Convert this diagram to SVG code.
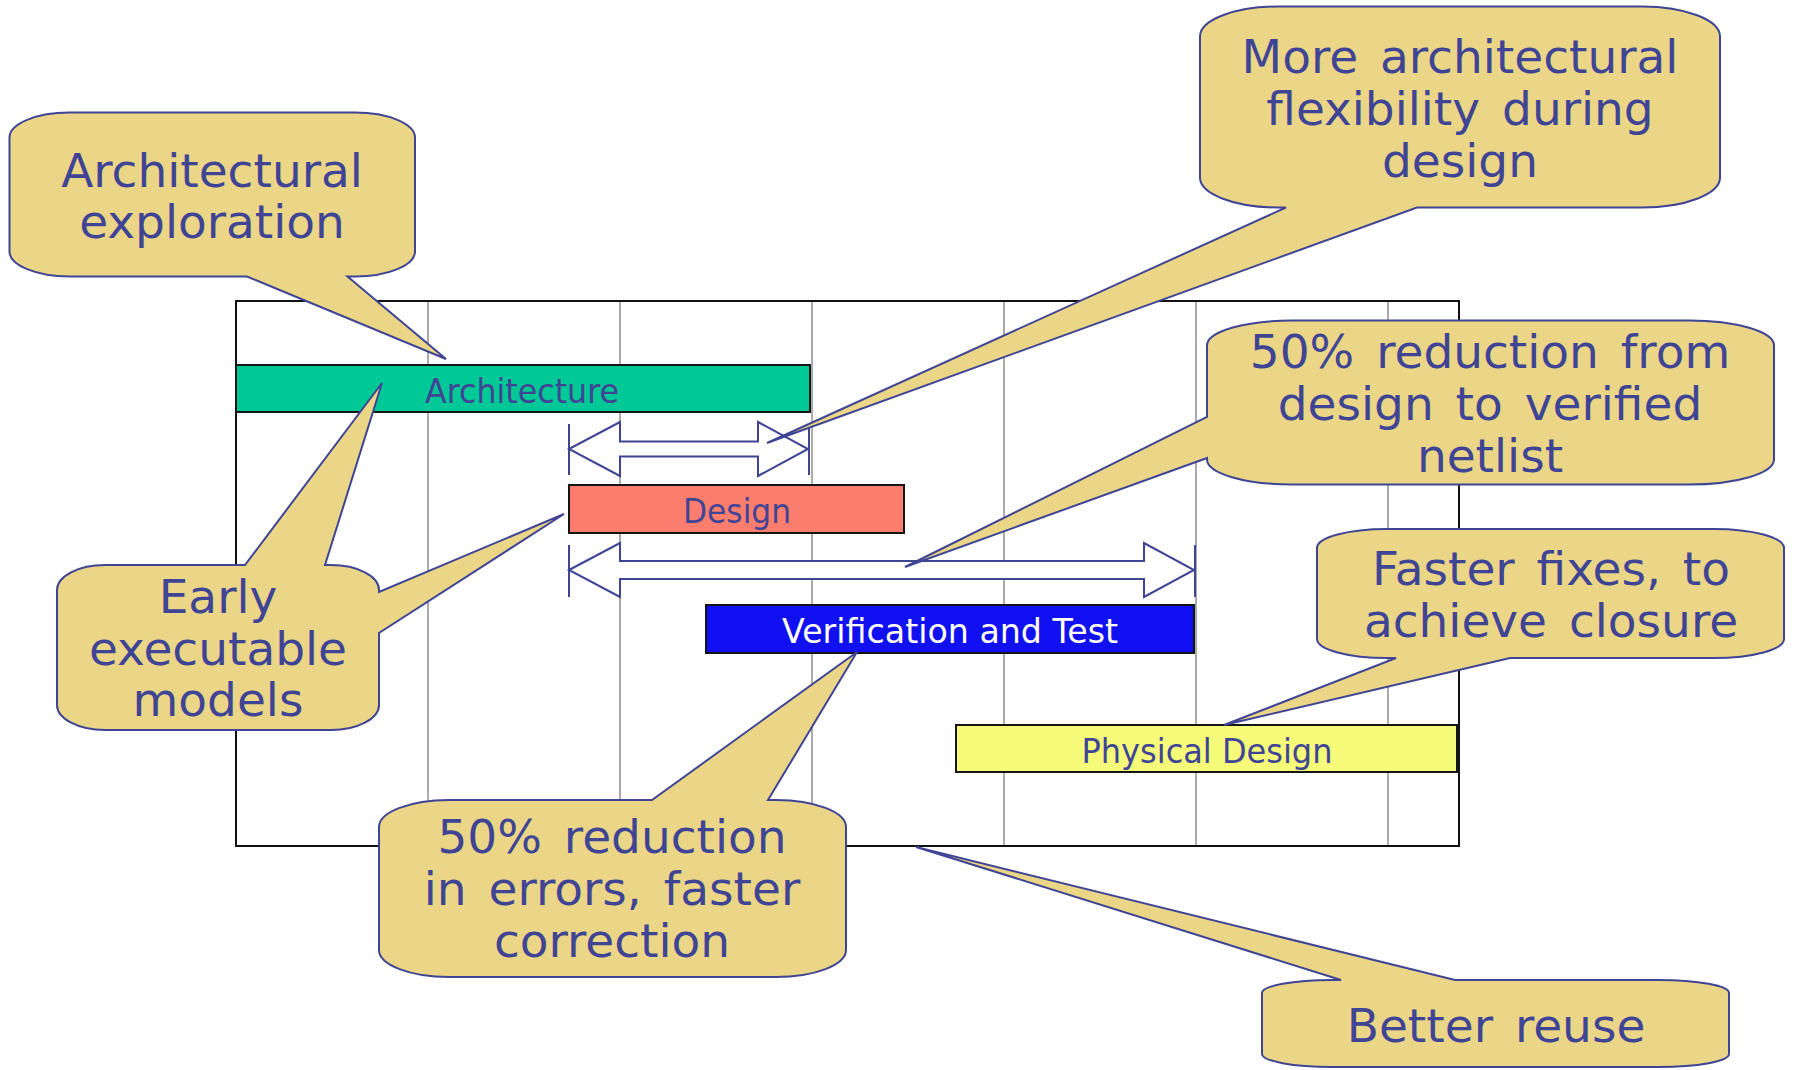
<svg xmlns="http://www.w3.org/2000/svg" width="1796" height="1070" viewBox="0 0 1796 1070">
  <style>
    .grid { stroke: #ababab; stroke-width: 2; fill: none; }
    .frame { stroke: #111111; stroke-width: 2; fill: none; }
    .bar { stroke: #151515; stroke-width: 2; }
    .bartext { font-family: "DejaVu Sans", "Liberation Sans", sans-serif; font-size: 34px; text-anchor: middle; }
    .dark { fill: #3f4594; }
    .light { fill: #ffffff; }
    .span { fill: #ffffff; stroke: #3f4594; stroke-width: 2; stroke-linejoin: miter; }
    .tick { stroke: #3f4594; stroke-width: 2; fill: none; }
    .callout { fill: #ebd687; stroke: #3f4594; stroke-width: 2; stroke-linejoin: miter; }
    .note { font-family: "DejaVu Sans", "Liberation Sans", sans-serif; font-size: 47px; fill: #3f4594; text-anchor: middle; word-spacing: 7px; }
  </style>

  <rect width="1796" height="1070" fill="#ffffff"/>

  <!-- schedule chart: grid and frame -->
  <g id="chart">
    <g id="gridlines">
      <line class="grid" x1="428" y1="301" x2="428" y2="846"/>
      <line class="grid" x1="620" y1="301" x2="620" y2="846"/>
      <line class="grid" x1="812" y1="301" x2="812" y2="846"/>
      <line class="grid" x1="1004" y1="301" x2="1004" y2="846"/>
      <line class="grid" x1="1196" y1="301" x2="1196" y2="846"/>
      <line class="grid" x1="1388" y1="301" x2="1388" y2="846"/>
    </g>
    <rect class="frame" x="236" y="301" width="1223" height="545"/>
  </g>

  <!-- phase bars -->
  <g id="bar-architecture">
    <rect class="bar" x="236" y="365" width="574" height="47" fill="#00c896"/>
    <text class="bartext dark" x="522" y="403" textLength="194" lengthAdjust="spacingAndGlyphs">Architecture</text>
  </g>
  <g id="bar-design">
    <rect class="bar" x="569" y="485" width="335" height="48" fill="#fa7d6e"/>
    <text class="bartext dark" x="737" y="523" textLength="108" lengthAdjust="spacingAndGlyphs">Design</text>
  </g>
  <g id="bar-verification">
    <rect class="bar" x="706" y="605" width="488" height="48" fill="#1010f0"/>
    <text class="bartext light" x="950" y="643" textLength="336" lengthAdjust="spacingAndGlyphs">Verification and Test</text>
  </g>
  <g id="bar-physical">
    <rect class="bar" x="956" y="725" width="501" height="47" fill="#f5fa78"/>
    <text class="bartext dark" x="1207" y="763" textLength="251" lengthAdjust="spacingAndGlyphs">Physical Design</text>
  </g>

  <!-- duration spans -->
  <g id="connectors">
    <g id="span-design">
      <path class="span" d="M569,449 L620,422 V441.5 H758 V422 L808,449 L758,476 V456.5 H620 V476 Z"/>
      <path class="tick" d="M569,424 V475 M809,424 V475"/>
    </g>
    <g id="span-design-to-netlist">
      <path class="span" d="M569,570 L620,543 V561 H1144 V543 L1194,570 L1144,597 V579 H620 V597 Z"/>
      <path class="tick" d="M569,545 V597 M1195,545 V597"/>
    </g>
  </g>

  <!-- callouts -->
  <g id="callout-exploration">
    <path class="callout" d="M69.5,112.5 H355 A60,25 0 0 1 415,137.5 V251.5 A60,25 0 0 1 355,276.5 H347.5 L446,359 L247,276.5 H69.5 A60,25 0 0 1 9.5,251.5 V137.5 A60,25 0 0 1 69.5,112.5 Z"/>
    <text class="note" x="212" y="187">Architectural</text>
    <text class="note" x="212" y="238">exploration</text>
  </g>

  <g id="callout-flexibility">
    <path class="callout" d="M1278,6.5 H1642 A78,30 0 0 1 1720,36.5 V177.5 A78,30 0 0 1 1642,207.5 H1417 L767,443 L1286,207.5 H1278 A78,30 0 0 1 1200,177.5 V36.5 A78,30 0 0 1 1278,6.5 Z"/>
    <text class="note" x="1460" y="73">More architectural</text>
    <text class="note" x="1460" y="125">flexibility during</text>
    <text class="note" x="1460" y="177">design</text>
  </g>

  <g id="callout-netlist">
    <path class="callout" d="M1292,320.5 H1689 A85,25 0 0 1 1774,345.5 V459.5 A85,25 0 0 1 1689,484.5 H1292 A85,25 0 0 1 1207,459.5 V458 L905,567 L1207,417 V345.5 A85,25 0 0 1 1292,320.5 Z"/>
    <text class="note" x="1490" y="368">50% reduction from</text>
    <text class="note" x="1490" y="420">design to verified</text>
    <text class="note" x="1490" y="472">netlist</text>
  </g>

  <g id="callout-closure">
    <path class="callout" d="M1387,529 H1714 A70,19 0 0 1 1784,548 V639 A70,19 0 0 1 1714,658 H1510 L1224,725 L1396,658 H1387 A70,19 0 0 1 1317,639 V548 A70,19 0 0 1 1387,529 Z"/>
    <text class="note" x="1551" y="585">Faster fixes, to</text>
    <text class="note" x="1551" y="637">achieve closure</text>
  </g>

  <g id="callout-reuse">
    <path class="callout" d="M1332,980 H1341 L916,847 L1455,980 H1659 A70,13 0 0 1 1729,993 V1054 A70,13 0 0 1 1659,1067 H1332 A70,13 0 0 1 1262,1054 V993 A70,13 0 0 1 1332,980 Z"/>
    <text class="note" x="1496" y="1042">Better reuse</text>
  </g>

  <g id="callout-errors">
    <path class="callout" d="M449,800 H652 L857,652 L768,800 H776 A70,27 0 0 1 846,827 V950 A70,27 0 0 1 776,977 H449 A70,27 0 0 1 379,950 V827 A70,27 0 0 1 449,800 Z"/>
    <text class="note" x="612" y="853">50% reduction</text>
    <text class="note" x="612" y="905">in errors, faster</text>
    <text class="note" x="612" y="957">correction</text>
  </g>

  <g id="callout-models">
    <path class="callout" d="M105,565 H245 L382,383 L325,565 H331 A48,25 0 0 1 379,590 V592 L564,514 L379,633 V705 A48,25 0 0 1 331,730 H105 A48,25 0 0 1 57,705 V590 A48,25 0 0 1 105,565 Z"/>
    <text class="note" x="218" y="613">Early</text>
    <text class="note" x="218" y="665">executable</text>
    <text class="note" x="218" y="716">models</text>
  </g>
</svg>
